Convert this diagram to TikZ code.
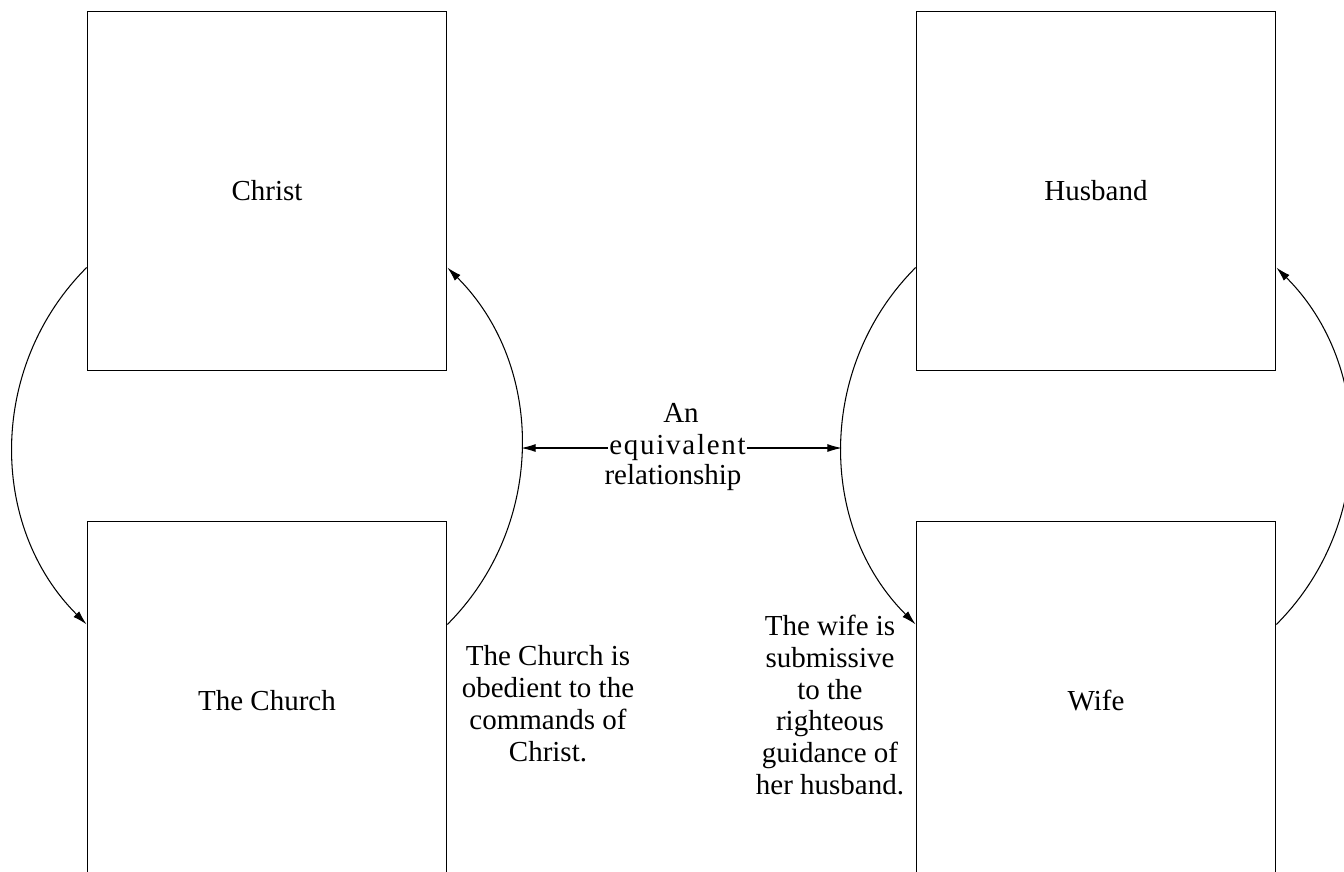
\documentclass[tikz,border=0pt]{standalone}
\usepackage{fontspec}
\setmainfont{Liberation Serif}
\usetikzlibrary{arrows.meta,positioning}

\begin{document}
\begin{tikzpicture}[
  x=1cm,y=1cm,
  box/.style={draw=black, line width=1pt, minimum width=7.18cm,
              minimum height=7.18cm, inner sep=0pt,
              font=\fontsize{16.5}{18.2}\selectfont},
  note/.style={align=center, inner sep=1pt,
               font=\fontsize{16.5}{18.2}\selectfont},
  arcline/.style={draw=black, line width=0.6pt,
               -{Latex[length=2.9mm,width=1.6mm]}},
  flow/.style={draw=black, line width=0.6pt,
               -{Latex[length=2.9mm,width=1.6mm]}}
]
  \clip (0,0) rectangle (26.88,17.44);

  \node[box] (christ)  at (5.34,13.62)  {Christ};
  \node[box] (church)  at (5.34,3.42)   {The Church};
  \node[box] (husband) at (21.92,13.62) {Husband};
  \node[box] (wife)    at (21.92,3.42)  {Wife};

  % arcs round each pair of boxes
  \draw[arcline] (christ.203) to[out=225,in=135] (church.157);
  \draw[arcline] (church.23) to[out=45,in=-45]
    node[coordinate,pos=0.5] (lmid) {} (christ.337);
  \draw[arcline] (husband.203) to[out=225,in=135]
    node[coordinate,pos=0.5] (rmid) {} (wife.157);
  \draw[arcline] (wife.23) to[out=45,in=-45] (husband.337);

  % the link between the two pairs
  \node[note,anchor=base,inner sep=0.5pt] (equiv) at (13.55,8.34)
    {\addfontfeature{LetterSpace=6}equivalent};
  \node[note,anchor=base] (an)    at (13.62,8.98) {An};
  \node[note,anchor=base] (rel)   at (13.46,7.74) {relationship};
  \draw[flow] (equiv.west) -- (equiv.west -| lmid);
  \draw[flow] (equiv.east) -- (equiv.east -| rmid);

  \node[note] (obey)   at (10.96,3.36)
    {The Church is\\obedient to the\\commands of\\Christ.};
  \node[note] (submit) at (16.6,3.34)
    {The wife is\\submissive\\to the\\righteous\\guidance of\\her husband.};
\end{tikzpicture}
\end{document}
